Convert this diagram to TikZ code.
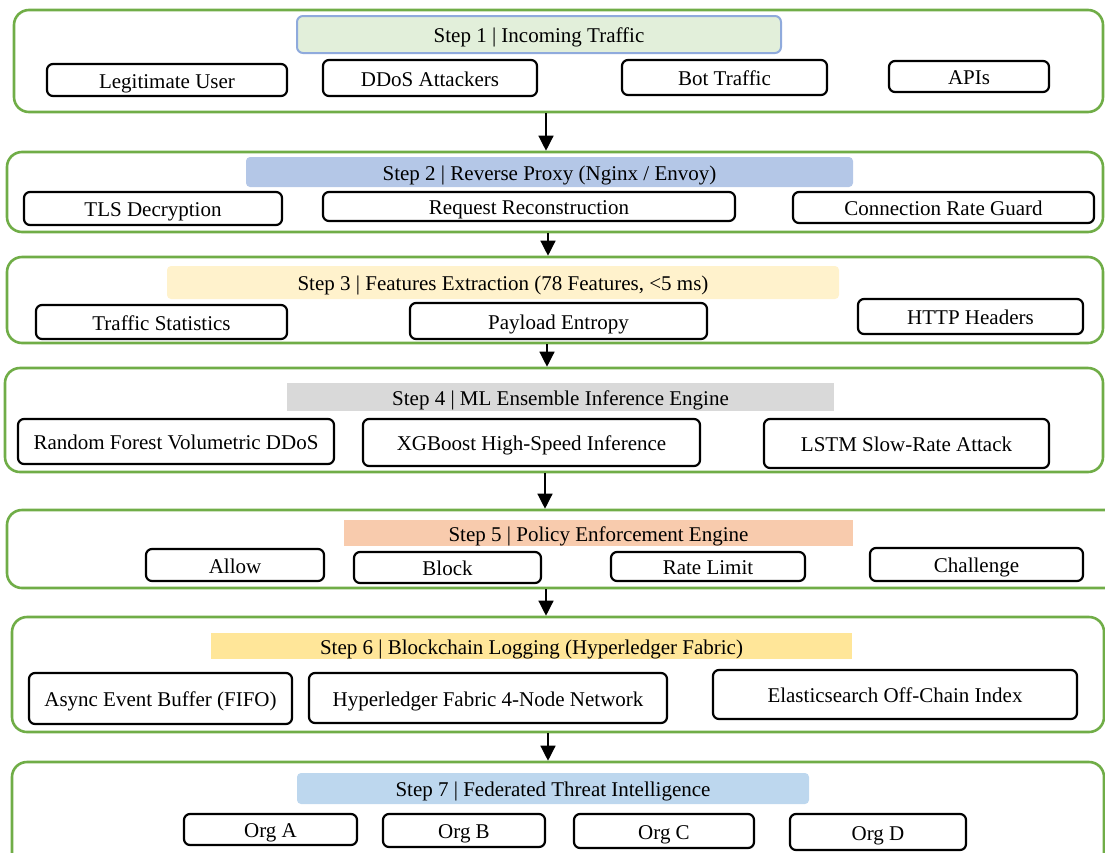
\documentclass[tikz,border=0pt]{standalone}
\usepackage{fontspec}
\setmainfont{Liberation Serif}
\usetikzlibrary{arrows.meta}
\definecolor{grn}{HTML}{70AD47}
\definecolor{t1}{HTML}{E2EFDA}
\definecolor{t1b}{HTML}{8FAADC}
\definecolor{t2}{HTML}{B4C7E7}
\definecolor{t3}{HTML}{FFF2CC}
\definecolor{t4}{HTML}{D9D9D9}
\definecolor{t5}{HTML}{F8CBAD}
\definecolor{t6}{HTML}{FFE699}
\definecolor{t7}{HTML}{BDD7EE}
\newcommand\bx[7][]{%
  \node[#1, minimum width={#5-#3}, minimum height={#6-#4}] (#2) at ({(#3+#5)/2},{(#4+#6)/2}) {#7};}
\tikzset{
  container/.style={draw=grn, line width=2.6pt, rounded corners=15pt, inner sep=0pt},
  item/.style={draw=black, line width=2.2pt, rounded corners=6pt, inner sep=0pt, text height=16.5pt, text depth=0pt, font=\fontsize{21}{25}\selectfont},
  title/.style={inner sep=0pt, text height=16.5pt, text depth=0pt, font=\fontsize{21}{25}\selectfont},
  arr/.style={line width=1.3pt, -{Triangle[length=15pt,width=15pt]}}
}
\begin{document}
\begin{tikzpicture}[x=1pt,y=-1pt]
\useasboundingbox (0,0) rectangle (1105,852);
% containers
\bx[container]{c1}{14}{10}{1103}{112}{}
\bx[container]{c2}{7}{152}{1103}{232}{}
\bx[container]{c3}{7}{257}{1103}{343}{}
\bx[container]{c4}{5}{368}{1103}{472}{}
\bx[container]{c5}{7}{510}{1120}{588}{}
\bx[container]{c6}{12}{617}{1104}{732}{}
\bx[container]{c7}{12}{762}{1104}{880}{}
% titles
\bx[title, fill=t1, draw=t1b, line width=2pt, rounded corners=6pt]{s1}{297}{16}{781}{53}{Step 1 | Incoming Traffic}
\bx[title, fill=t2, rounded corners=4pt]{s2}{246}{157}{853}{187}{Step 2 | Reverse Proxy (Nginx / Envoy)}
\bx[title, fill=t3, rounded corners=4pt]{s3}{167}{266}{839}{299}{Step 3 | Features Extraction (78 Features, <5 ms)}
\bx[title, fill=t4]{s4}{287}{383}{834}{411}{Step 4 | ML Ensemble Inference Engine}
\bx[title, fill=t5]{s5}{344}{520}{853}{546}{Step 5 | Policy Enforcement Engine}
\bx[title, fill=t6]{s6}{211}{633}{852}{659}{Step 6 | Blockchain Logging (Hyperledger Fabric)}
\bx[title, fill=t7, rounded corners=4pt]{s7}{297}{773}{809}{804}{Step 7 | Federated Threat Intelligence}
% step 1 items
\bx[item]{b11}{47}{64}{287}{96}{Legitimate User}
\bx[item]{b12}{323}{60}{537}{96}{DDoS Attackers}
\bx[item]{b13}{622}{60}{827}{95}{Bot Traffic}
\bx[item]{b14}{889}{61}{1049}{92}{APIs}
% step 2 items
\bx[item]{b21}{24}{192}{282}{225}{TLS Decryption}
\bx[item]{b22}{323}{192}{735}{221}{Request Reconstruction}
\bx[item]{b23}{793}{192}{1094}{223}{Connection Rate Guard}
% step 3 items
\bx[item]{b31}{36}{305}{287}{339}{Traffic Statistics}
\bx[item]{b32}{410}{303}{707}{339}{Payload Entropy}
\bx[item]{b33}{858}{299}{1083}{334}{HTTP Headers}
% step 4 items
\bx[item]{b41}{18}{419}{334}{464}{Random Forest Volumetric DDoS}
\bx[item]{b42}{363}{419}{700}{466}{XGBoost High-Speed Inference}
\bx[item]{b43}{764}{419}{1049}{468}{LSTM Slow-Rate Attack}
% step 5 items
\bx[item]{b51}{146}{549}{324}{581}{Allow}
\bx[item]{b52}{354}{552}{541}{583}{Block}
\bx[item]{b53}{611}{552}{805}{581}{Rate Limit}
\bx[item]{b54}{870}{548}{1083}{581}{Challenge}
% step 6 items
\bx[item]{b61}{29}{673}{292}{724}{Async Event Buffer (FIFO)}
\bx[item]{b62}{309}{673}{667}{723}{Hyperledger Fabric 4-Node Network}
\bx[item]{b63}{713}{670}{1077}{719}{Elasticsearch Off-Chain Index}
% step 7 items
\bx[item]{b71}{184}{814}{357}{845}{Org A}
\bx[item]{b72}{383}{814}{545}{847}{Org B}
\bx[item]{b73}{574}{814}{754}{848}{Org C}
\bx[item]{b74}{790}{814}{966}{850}{Org D}
% arrows
\coordinate (a1) at (546,0);
\coordinate (a2) at (548,0);
\coordinate (a3) at (547,0);
\coordinate (a4) at (545,0);
\coordinate (a5) at (546,0);
\coordinate (a6) at (548,0);
\draw[arr] (c1.south -| a1) -- (c2.north -| a1);
\draw[arr] (c2.south -| a2) -- (c3.north -| a2);
\draw[arr] (c3.south -| a3) -- (c4.north -| a3);
\draw[arr] (c4.south -| a4) -- (c5.north -| a4);
\draw[arr] (c5.south -| a5) -- (c6.north -| a5);
\draw[arr] (c6.south -| a6) -- (c7.north -| a6);
\end{tikzpicture}
\end{document}
